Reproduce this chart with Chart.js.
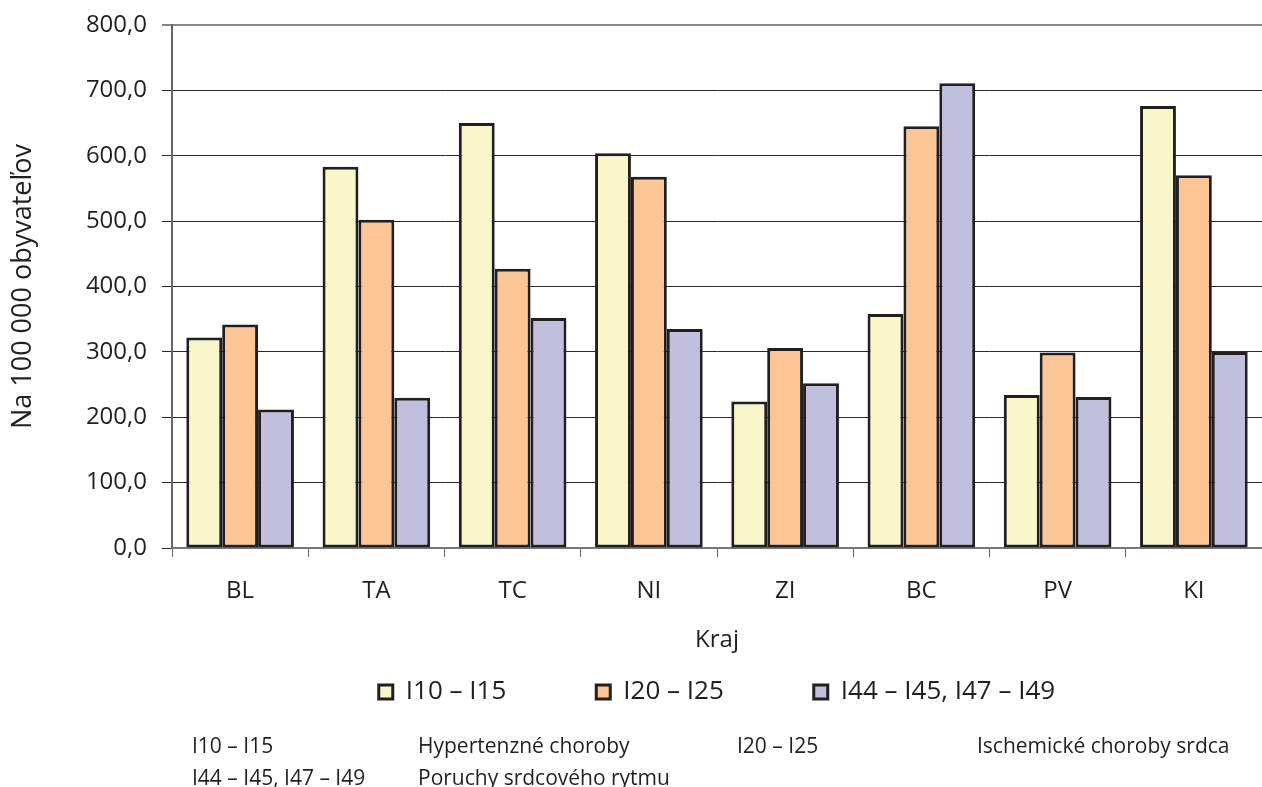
<!DOCTYPE html>
<html>
<head>
<meta charset="utf-8">
<script src="https://cdn.jsdelivr.net/npm/chart.js@4.4.1/dist/chart.umd.min.js"></script>
<style>
  html, body { margin:0; padding:0; background:#fff; }
  #wrap { position:relative; width:1262px; height:787px; }
  canvas { position:absolute; left:0; top:0; }
  .note { position:absolute; font-family:"Open Sans", sans-serif; font-size:21px; color:#231f20; white-space:nowrap; line-height:28px; }
</style>
</head>
<body>
<div id="wrap">
  <canvas id="c" width="1262" height="787"></canvas>
  <div class="note" style="left:192px; top:731px;">I10 – I15</div>
  <div class="note" style="left:418px; top:731px;">Hypertenzné choroby</div>
  <div class="note" style="left:737px; top:731px;">I20 – I25</div>
  <div class="note" style="left:977px; top:731px;">Ischemické choroby srdca</div>
  <div class="note" style="left:192px; top:763px;">I44 – I45, I47 – I49</div>
  <div class="note" style="left:418px; top:763px;">Poruchy srdcového rytmu</div>
</div>
<script>
const categories = ["BL", "TA", "TC", "NI", "ZI", "BC", "PV", "KI"];
const seriesNames = ["I10 – I15", "I20 – I25", "I44 – I45, I47 – I49"];
const hypertenzne = [322, 583, 650, 604, 224, 358, 234, 676];
const ischemicke = [342, 502, 427, 568, 306, 645, 299, 570];
const poruchy = [212, 230, 352, 335, 252, 711, 231, 300];
const yTicks = [0, 100, 200, 300, 400, 500, 600, 700, 800];
const yTitle = "Na 100 000 obyvateľov";
const xTitle = "Kraj";

const colors = ["#F8F7C9", "#FBC595", "#C0BFDD"];
const font = '"Open Sans", sans-serif';
const ink = "#231f20";

// moves the legend up so its items sit just under the axis title
const legendShift = {
  id: "legendShift",
  afterLayout(chart) {
    const lg = chart.legend;
    if (lg) { lg.top -= 21; lg.bottom -= 21; }
  }
};

new Chart(document.getElementById("c"), {
  type: "bar",
  data: {
    labels: categories,
    datasets: [hypertenzne, ischemicke, poruchy].map((d, i) => ({
      label: seriesNames[i],
      data: d,
      backgroundColor: colors[i],
      borderColor: ink,
      borderWidth: 3,
      borderSkipped: false,
      barPercentage: 1,
      categoryPercentage: 0.79
    }))
  },
  plugins: [legendShift],
  options: {
    responsive: false,
    animation: false,
    layout: { padding: { top: 25, right: 0, left: 0, bottom: 51 } },
    plugins: {
      tooltip: { enabled: false },
      legend: {
        position: "bottom",
        fullSize: false,
        labels: {
          font: { family: font, size: 26 },
          color: ink,
          boxWidth: 14,
          boxHeight: 14,
          padding: 90
        }
      }
    },
    scales: {
      x: {
        afterFit: (s) => { s.height = 62; },
        grid: { drawOnChartArea: false, drawTicks: true, tickLength: 9, offset: true, color: "#666" },
        border: { color: "#777", width: 2 },
        ticks: { font: { family: font, size: 24 }, color: ink, padding: 20 },
        title: { display: true, text: xTitle, font: { family: font, size: 24 }, color: ink, padding: { top: 0, bottom: -45 } }
      },
      y: {
        min: 0, max: 800,
        afterFit: (s) => { s.width = 172; s.paddingTop = 0; s.paddingBottom = 0; },
        afterBuildTicks: (s) => { s.ticks = yTicks.map(v => ({ value: v })); },
        grid: {
          color: (c) => c.tick && c.tick.value === 800 ? "#888" : "#2a2a2a",
          lineWidth: (c) => c.tick && c.tick.value === 800 ? 2 : 1,
          tickLength: 10
        },
        border: { color: "#666", width: 2 },
        ticks: {
          font: { family: font, size: 24 }, color: ink, padding: 15,
          callback: (v) => v.toFixed(1).replace(".", ",")
        },
        title: { display: true, text: yTitle, font: { family: font, size: 27 }, color: ink, padding: { top: 7, bottom: 0 } }
      }
    }
  }
});
</script>
</body>
</html>
